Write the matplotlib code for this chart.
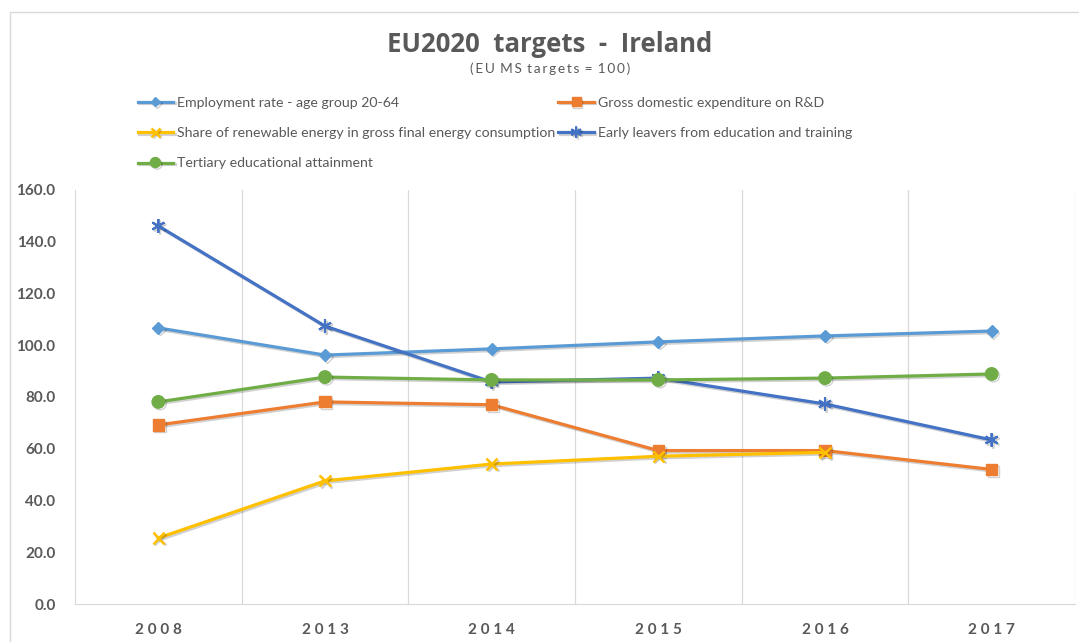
import matplotlib.pyplot as plt
import matplotlib.patheffects as pe
from matplotlib.patches import Rectangle

# data
years = ['2008', '2013', '2014', '2015', '2016', '2017']
employment = [106.7, 96.2, 98.6, 101.3, 103.6, 105.5]
rd_expenditure = [69.2, 78.1, 77.0, 59.3, 59.3, 52.0]
renewable = [25.5, 47.6, 54.1, 57.1, 58.6]
early_leavers = [146.1, 107.4, 85.8, 87.3, 77.3, 63.4]
tertiary = [78.1, 87.7, 86.6, 86.6, 87.3, 88.9]

grey = '#595959'
plt.rcParams['font.family'] = ['Lato', 'DejaVu Sans']

fig = plt.figure(figsize=(10.79, 6.42), dpi=100)
ax = fig.add_axes([75 / 1079, 1 - 604 / 642, 1000 / 1079, 414 / 642])

# thin chart-area frame
fig.patches.append(Rectangle((10 / 1079, -0.01), 1.1, 1 - 12 / 642 + 0.01,
                             transform=fig.transFigure, fill=False,
                             edgecolor='#D9D9D9', linewidth=1))

shadow = [pe.SimpleLineShadow(offset=(1.2, -1.2), alpha=0.18, shadow_color='black'), pe.Normal()]
x = list(range(len(years)))

l_emp, = ax.plot(x, employment, color='#5B9BD5', lw=2.3, marker='D', ms=6,
                 label='Employment rate - age group 20-64', path_effects=shadow)
l_rd, = ax.plot(x, rd_expenditure, color='#ED7D31', lw=2.3, marker='s', ms=8,
                label='Gross domestic expenditure on R&D', path_effects=shadow)
l_ren, = ax.plot(x[:len(renewable)], renewable, color='#FFC000', lw=2.3, marker='x', ms=8,
                 mew=1.8, label='Share of renewable energy in gross final energy consumption',
                 path_effects=shadow)
l_early, = ax.plot(x, early_leavers, color='#4472C4', lw=2.3, marker=(6, 2, 0), ms=10,
                   mew=1.5, label='Early leavers from education and training', path_effects=shadow)
l_ter, = ax.plot(x, tertiary, color='#70AD47', lw=2.3, marker='o', ms=9,
                 label='Tertiary educational attainment', path_effects=shadow)

# vertical separators between categories
for b in [0.5, 1.5, 2.5, 3.5, 4.5, 5.5]:
    ax.axvline(b, color='#D9D9D9', lw=0.9, zorder=0)

ax.set_xlim(-0.5, 5.5)
ax.set_ylim(0, 160)
ax.set_yticks(range(0, 161, 20))
ax.set_yticklabels([f'{v:.1f}' for v in range(0, 161, 20)],
                   fontweight='bold', fontsize=11, color=grey)
ax.set_xticks(x)
ax.set_xticklabels([' '.join(y) for y in years], fontweight='bold', fontsize=11, color=grey)
ax.tick_params(length=0)
ax.tick_params(axis='y', pad=14)
ax.tick_params(axis='x', pad=14)
for side in ['top', 'right']:
    ax.spines[side].set_visible(False)
ax.spines['left'].set_color('#D9D9D9')
ax.spines['bottom'].set_color('#D9D9D9')

# title
fig.text(550 / 1079, 1 - 44 / 642, 'EU2020  targets  -  Ireland', ha='center', va='center',
         fontsize=18.5, fontweight='bold', color=grey, family='Open Sans')
fig.text(550 / 1079, 1 - 69 / 642, '( E U   M S   t a r g e t s   =   1 0 0 )'.replace(' ', '\u2009'),
         ha='center', va='center', fontsize=9.8, color=grey)

handles = [l_emp, l_ren, l_ter, l_rd, l_early]
fig.legend(handles=handles, labels=[h.get_label() for h in handles], ncol=2,
           loc='upper left', bbox_to_anchor=(132 / 1079, 1 - 91 / 642), frameon=False,
           fontsize=10.2, labelcolor=grey, handlelength=2.5, handletextpad=0.3,
           columnspacing=0.2, labelspacing=1.3, borderaxespad=0, markerscale=0.8)

fig.savefig('out.png', dpi=100)
